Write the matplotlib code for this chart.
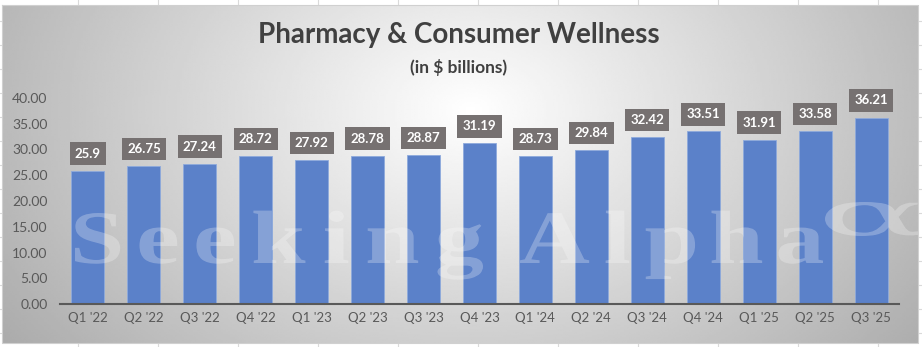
import matplotlib
matplotlib.use("Agg")
import matplotlib.pyplot as plt
import numpy as np
from matplotlib.textpath import TextPath
from matplotlib.font_manager import FontProperties
from matplotlib.patches import PathPatch, Rectangle
from matplotlib.transforms import Affine2D

quarters = ["Q1 '22", "Q2 '22", "Q3 '22", "Q4 '22", "Q1 '23", "Q2 '23", "Q3 '23", "Q4 '23",
            "Q1 '24", "Q2 '24", "Q3 '24", "Q4 '24", "Q1 '25", "Q2 '25", "Q3 '25"]
revenue = [25.9, 26.75, 27.24, 28.72, 27.92, 28.78, 28.87, 31.19,
           28.73, 29.84, 32.42, 33.51, 31.91, 33.58, 36.21]
value_labels = ["25.9", "26.75", "27.24", "28.72", "27.92", "28.78", "28.87", "31.19",
                "28.73", "29.84", "32.42", "33.51", "31.91", "33.58", "36.21"]
yticks = [0, 5, 10, 15, 20, 25, 30, 35, 40]

W, H = 922, 347
fig = plt.figure(figsize=(W / 100, H / 100), dpi=100)

# spreadsheet behind the chart
bg = fig.add_axes([0, 0, 1, 1])
bg.set_xlim(0, W)
bg.set_ylim(H, 0)
bg.axis("off")
for x in range(78, W, 80):
    bg.axvline(x, color="#dadada", lw=0.8)
for y in range(-3, H, 24):
    bg.axhline(y, color="#dadada", lw=0.8)

# chart area with radial grey gradient
cx0, cy0, cx1, cy1 = 2, 5, 918, 343
xx, yy = np.meshgrid(np.linspace(cx0, cx1, 400), np.linspace(cy0, cy1, 200))
r = np.sqrt(((xx - 470) / 470) ** 2 + ((yy - 110) / 330) ** 2)
shade = np.clip(1.0 - 0.27 * r, 0, 1)
bg.imshow(shade, cmap="gray", vmin=0, vmax=1, extent=[cx0, cx1, cy1, cy0],
          aspect="auto", zorder=2, interpolation="bilinear")
bg.plot([cx0, cx1, cx1, cx0, cx0], [cy0, cy0, cy1, cy1, cy0], color="#d0d0d0", lw=0.8, zorder=3)

fig.text(459 / W, 1 - 35 / H, "Pharmacy & Consumer Wellness", ha="center", va="center",
         fontsize=20, fontweight="bold", color="#404040", family="Lato")
fig.text(459 / W, 1 - 67 / H, "(in $ billions)", ha="center", va="center",
         fontsize=12.5, fontweight="bold", color="#404040", family="Lato")

ax = fig.add_axes([60 / W, 1 - 304 / H, (899 - 60) / W, (304 - 98) / H])
ax.patch.set_visible(False)
x = np.arange(len(quarters))
ax.bar(x, revenue, width=0.59, color="#5b81c9", edgecolor="#8eaadc", linewidth=0.6, zorder=2)
ax.set_xlim(-0.5, len(quarters) - 0.5)
ax.set_ylim(0, 40)
ax.set_yticks(yticks)
ax.set_yticklabels([f"{v:.2f}" for v in yticks], family="Lato", fontsize=10, color="#595959")
ax.set_xticks(x)
ax.set_xticklabels(quarters, family="Lato", fontsize=9.5, color="#595959")
ax.tick_params(length=0, pad=6)
ax.tick_params(axis="y", pad=9)
for s in ["top", "right", "left"]:
    ax.spines[s].set_visible(False)
ax.spines["bottom"].set_color("#595959")
ax.spines["bottom"].set_linewidth(1.5)

for xi, v, lab in zip(x, revenue, value_labels):
    ax.annotate(lab, (xi, v), xytext=(0, 8), textcoords="offset points", ha="center", va="bottom",
                fontsize=9.5, fontweight="bold", color="white", family="Lato", zorder=4,
                bbox=dict(boxstyle="square,pad=0.4", fc="#767171", ec="none"))

# watermark: widened serif letters, spread over a given span
wm_font = FontProperties(family="Liberation Serif", weight="bold")
wm_layer = fig.add_axes([0, 0, 1, 1], zorder=5)
wm_layer.set_xlim(0, W)
wm_layer.set_ylim(H, 0)
wm_layer.axis("off")
clip = Rectangle((cx0, cy0), cx1 - cx0, cy1 - cy0, transform=wm_layer.transData)
cap_h = TextPath((0, 0), "S", size=1, prop=wm_font).get_extents().y1


def add_path(path):
    patch = PathPatch(path, fc="white", ec="none", alpha=0.26)
    wm_layer.add_patch(patch)
    patch.set_clip_path(clip)


def word(text, x0, x1, base, cap_px, widen):
    sy = cap_px / cap_h
    sx = sy * widen
    glyphs = [TextPath((0, 0), ch, size=1, prop=wm_font) for ch in text]
    widths = [g.get_extents().width * sx for g in glyphs]
    gap = ((x1 - x0) - sum(widths)) / (len(text) - 1)
    px = x0
    for g, w in zip(glyphs, widths):
        e = g.get_extents()
        tr = Affine2D().translate(-e.x0, 0).scale(sx, -sy).translate(px, base)
        add_path(tr.transform_path(g))
        px += w + gap


word("Seeking", 75, 483, 263, 50, 1.3)
word("Alpha", 520, 823, 263, 50, 1.3)

alpha_glyph = TextPath((0, 0), "\u03b1", size=1, prop=FontProperties(family="DejaVu Serif"))
ae = alpha_glyph.get_extents()
tr = Affine2D().translate(-ae.x0, -ae.y0).scale(100 / ae.width, -34 / ae.height).translate(825, 236)
add_path(tr.transform_path(alpha_glyph))

fig.savefig("out.png", dpi=100)
